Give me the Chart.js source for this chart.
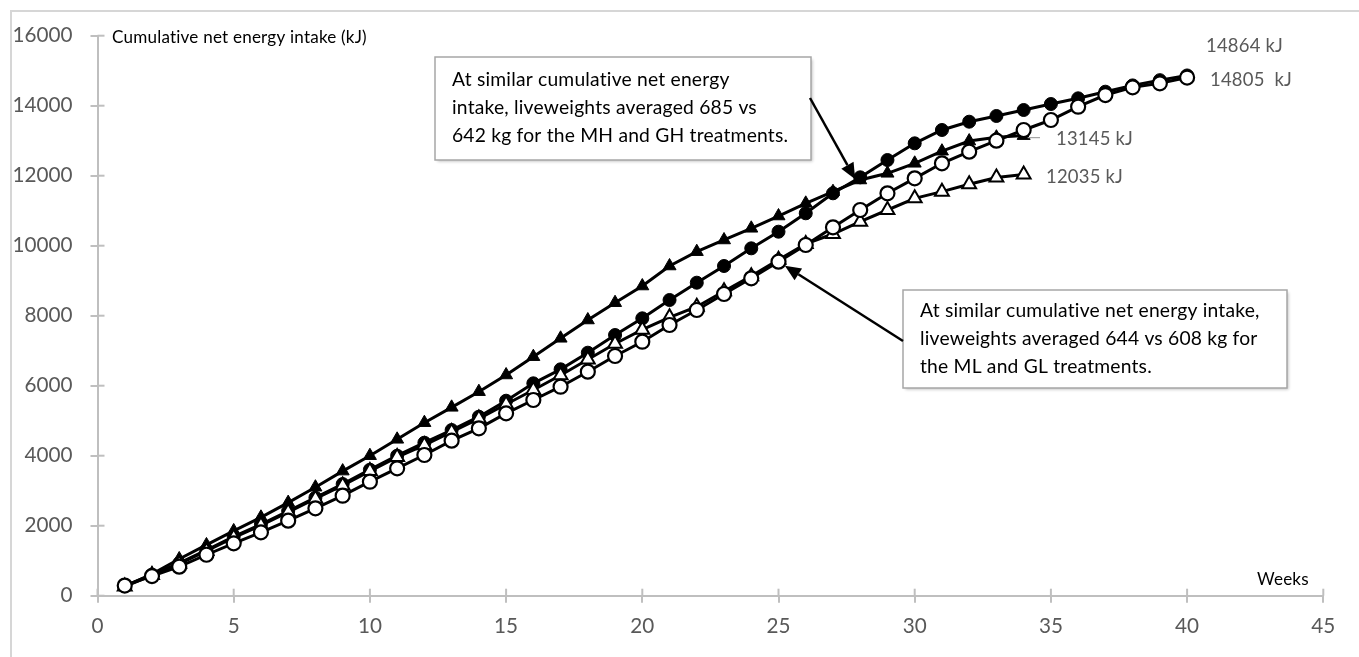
<!DOCTYPE html>
<html><head><meta charset="utf-8">
<script src="https://cdn.jsdelivr.net/npm/chart.js@4/dist/chart.umd.min.js"></script>
<style>html,body{margin:0;padding:0;background:#fff;overflow:hidden}#wrap{width:1359px;height:657px;position:relative}</style>
</head><body><div id="wrap"><canvas id="c" width="1359" height="657"></canvas></div>
<script>
// ---------- data ----------
const weeks = [1,2,3,4,5,6,7,8,9,10,11,12,13,14,15,16,17,18,19,20,21,22,23,24,25,26,27,28,29,30,31,32,33,34,35,36,37,38,39,40];
// MH: filled circles
const mhValues = [280,600,930,1300,1690,2040,2420,2800,3190,3600,4000,4371,4734,5114,5571,6068,6468,6943,7448,7925,8449,8943,9420,9925,10400,10926,11497,11954,12448,12925,13306,13543,13706,13877,14048,14211,14400,14580,14730,14864];
// GH: filled triangles (34 weeks)
const ghValues = [270,620,1050,1450,1850,2240,2660,3100,3560,4000,4468,4943,5382,5829,6306,6829,7354,7877,8371,8848,9420,9829,10163,10497,10848,11211,11543,11877,12068,12354,12700,12990,13100,13145];
// ML: open circles
const mlValues = [290,560,830,1170,1497,1811,2143,2497,2857,3257,3640,4020,4429,4782,5211,5591,5971,6400,6848,7257,7734,8163,8620,9068,9543,10020,10525,11020,11497,11925,12354,12686,13000,13306,13591,13971,14305,14525,14640,14805];
// GL: open triangles (34 weeks)
const glValues = [260,590,910,1280,1660,2010,2390,2770,3150,3560,3960,4300,4680,5060,5470,5877,6300,6750,7200,7600,7954,8257,8700,9130,9600,10050,10334,10686,11020,11354,11544,11754,11950,12035];
const xTickValues = [0,5,10,15,20,25,30,35,40,45];
const yTickValues = [0,2000,4000,6000,8000,10000,12000,14000,16000];
const endLabels = ["14864 kJ","14805  kJ","13145 kJ","12035 kJ"];
const yAxisTitle = "Cumulative net energy intake (kJ)";
const xAxisTitle = "Weeks";
const note1 = ["At similar cumulative net energy","intake, liveweights averaged 685 vs","642 kg for the MH and GH treatments."];
const note2 = ["At similar cumulative net energy intake,","liveweights averaged 644 vs 608 kg for","the ML and GL treatments."];

// ---------- fonts ----------
const FAM = 'Lato, "Open Sans", sans-serif';
const LS = '0.2px';
const mctx = document.createElement('canvas').getContext('2d');
function fit(text, w, ls){ mctx.font = '20px ' + FAM; try{ mctx.letterSpacing = ls ? LS : '0px'; }catch(e){} return 20*w/mctx.measureText(text).width; }
const tickSize = fit('16000', 60, false);
const titleSize = fit(yAxisTitle, 254, true);
const noteSize = fit(note1[2], 336, true);
const labelSize = fit('14864 kJ', 77, true);

function pts(vals){ return vals.map((v,i)=>({x:weeks[i], y:v})); }

const CHART_LEFT = 97.5, CHART_TOP = 35.7, CHART_BOTTOM = 595.7, CHART_RIGHT = 1323.3;
const AXIS_COL = '#bfbfbf';

function noLig(ctx){ try { ctx.letterSpacing = LS; } catch(e){} }
function arrow(ctx, x0,y0,x1,y1){
  const ang = Math.atan2(y1-y0, x1-x0), L=16, W=7;
  const bx = x1 - L*Math.cos(ang), by = y1 - L*Math.sin(ang);
  ctx.save(); ctx.strokeStyle='#000'; ctx.fillStyle='#000'; ctx.lineWidth=2.5;
  ctx.beginPath(); ctx.moveTo(x0,y0); ctx.lineTo(bx,by); ctx.stroke();
  ctx.beginPath(); ctx.moveTo(x1,y1);
  ctx.lineTo(bx + W*Math.sin(ang), by - W*Math.cos(ang));
  ctx.lineTo(bx - W*Math.sin(ang), by + W*Math.cos(ang));
  ctx.closePath(); ctx.fill(); ctx.restore();
}
function noteBox(ctx, x, y, w, h, lines, tx, ty, lh){
  ctx.save();
  ctx.shadowColor='rgba(0,0,0,0.25)'; ctx.shadowBlur=3; ctx.shadowOffsetX=1.5; ctx.shadowOffsetY=1.5;
  ctx.fillStyle='#fff'; ctx.fillRect(x,y,w,h);
  ctx.shadowColor='transparent';
  ctx.strokeStyle='#a6a6a6'; ctx.lineWidth=1.5; ctx.strokeRect(x,y,w,h);
  ctx.fillStyle='#000'; ctx.font = noteSize.toFixed(2)+'px '+FAM; ctx.textBaseline='middle'; ctx.textAlign='left';
  noLig(ctx);
  lines.forEach((l,i)=>ctx.fillText(l, tx, ty + i*lh));
  ctx.restore();
}

const decor = {
  id:'decor',
  beforeDraw(chart){
    const ctx = chart.ctx; ctx.save();
    ctx.fillStyle='#fff'; ctx.fillRect(0,0,chart.width,chart.height);
    ctx.strokeStyle='#d6d6d6'; ctx.lineWidth=2; ctx.strokeRect(11,11,1500,800);
    ctx.restore();
  },
  beforeDatasetsDraw(chart){
    const ctx = chart.ctx, xs = chart.scales.x, ys = chart.scales.y;
    ctx.save(); ctx.strokeStyle=AXIS_COL; ctx.lineWidth=2;
    xTickValues.forEach(v=>{ const px=xs.getPixelForValue(v); ctx.beginPath(); ctx.moveTo(px, ys.bottom); ctx.lineTo(px, ys.bottom-7); ctx.stroke(); });
    yTickValues.forEach(v=>{ const py=ys.getPixelForValue(v); ctx.beginPath(); ctx.moveTo(xs.left, py); ctx.lineTo(xs.left+7, py); ctx.stroke(); });
    ctx.restore();
  },
  afterDatasetsDraw(chart){
    const ctx = chart.ctx, xs = chart.scales.x, ys = chart.scales.y;
    ctx.save();
    noLig(ctx);
    // axis titles
    ctx.fillStyle='#000'; ctx.font = titleSize.toFixed(2)+'px '+FAM; ctx.textBaseline='middle'; ctx.textAlign='left';
    ctx.fillText(yAxisTitle, 112, 37);
    ctx.fillText(xAxisTitle, 1257, 579);
    // end labels
    ctx.fillStyle='#595959'; ctx.font = labelSize.toFixed(2)+'px '+FAM;
    ctx.fillText(endLabels[0], 1206, 46);
    ctx.fillText(endLabels[1], 1210, 80);
    ctx.fillText(endLabels[2], 1056, 139);
    ctx.fillText(endLabels[3], 1046, 177);
    // leader line for 13145
    ctx.strokeStyle='#a6a6a6'; ctx.lineWidth=1.2;
    ctx.beginPath(); ctx.moveTo(xs.getPixelForValue(34)+4, ys.getPixelForValue(ghValues[33])+2); ctx.lineTo(1040, ys.getPixelForValue(ghValues[33])+2); ctx.stroke();
    // notes
    noteBox(ctx, 435, 57, 376, 103, note1, 452, 80, 28);
    noteBox(ctx, 903, 290, 384, 98, note2, 920, 311, 28);
    // arrows, tips anchored to data points
    const t1x = xs.getPixelForValue(28) - 5, t1y = ys.getPixelForValue(11900);
    arrow(ctx, 810, 98, t1x, t1y);
    const px2 = xs.getPixelForValue(25), py2 = ys.getPixelForValue(mlValues[24]);
    const d = Math.hypot(903-px2, 341-py2);
    arrow(ctx, 903, 341, px2 + 7.5*(903-px2)/d, py2 + 7.5*(341-py2)/d);
    ctx.restore();
  }
};

const tickFont = {family: FAM, size: tickSize};
new Chart(document.getElementById('c'), {
  type:'scatter',
  data:{ datasets:[
    {label:'ML', data:pts(mlValues), showLine:true, borderColor:'#000', borderWidth:3, pointStyle:'circle', pointRadius:7, pointBackgroundColor:'#fff', pointBorderColor:'#000', pointBorderWidth:2.2},
    {label:'GL', data:pts(glValues), showLine:true, borderColor:'#000', borderWidth:3, pointStyle:'triangle', pointRadius:8, pointBackgroundColor:'#fff', pointBorderColor:'#000', pointBorderWidth:2},
    {label:'MH', data:pts(mhValues), showLine:true, borderColor:'#000', borderWidth:3, pointStyle:'circle', pointRadius:6.5, pointBackgroundColor:'#000', pointBorderColor:'#000', pointBorderWidth:1},
    {label:'GH', data:pts(ghValues), showLine:true, borderColor:'#000', borderWidth:3, pointStyle:'triangle', pointRadius:7.5, pointBackgroundColor:'#000', pointBorderColor:'#000', pointBorderWidth:1}
  ]},
  options:{
    responsive:false, animation:false, devicePixelRatio:1,
    layout:{padding:{left:0, top:CHART_TOP, right:1359-CHART_RIGHT, bottom:0}},
    plugins:{legend:{display:false}, tooltip:{enabled:false}},
    scales:{
      x:{type:'linear', min:0, max:45,
        afterBuildTicks(s){ s.ticks = xTickValues.map(v=>({value:v})); },
        afterFit(s){ s.height = 657 - CHART_BOTTOM; },
        ticks:{color:'#595959', font:tickFont, padding:11, maxRotation:0, callback:v=>String(v)},
        grid:{drawOnChartArea:false, drawTicks:true, tickLength:7, color:AXIS_COL, lineWidth:2},
        border:{color:AXIS_COL, width:2}},
      y:{min:0, max:16000,
        afterBuildTicks(s){ s.ticks = yTickValues.map(v=>({value:v})); },
        afterFit(s){ s.width = CHART_LEFT; },
        ticks:{color:'#595959', font:tickFont, padding:18, callback:v=>String(v)},
        grid:{drawOnChartArea:false, drawTicks:true, tickLength:7, color:AXIS_COL, lineWidth:2},
        border:{color:AXIS_COL, width:2}}
    }
  },
  plugins:[decor]
});
</script></body></html>
